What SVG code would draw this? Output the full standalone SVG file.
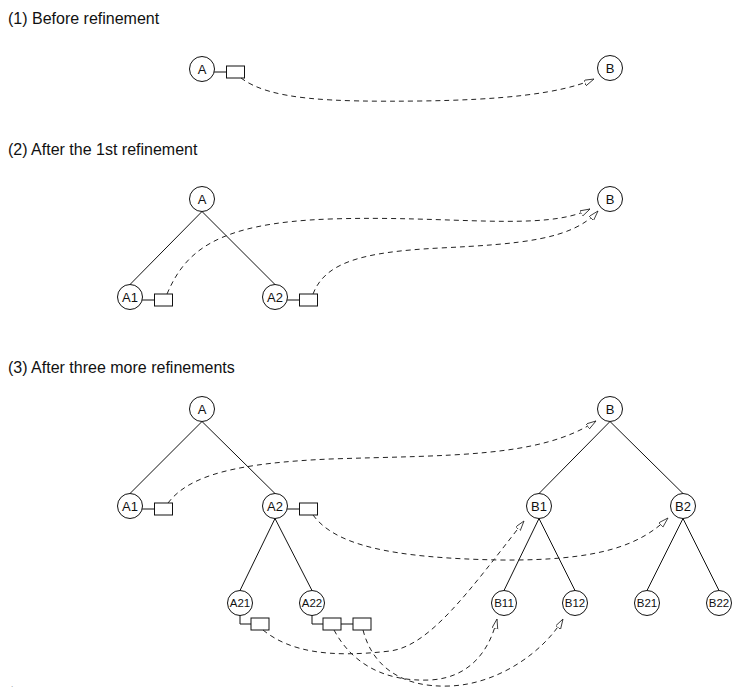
<svg xmlns="http://www.w3.org/2000/svg" width="732" height="688" viewBox="0 0 732 688">
<style>
.title{font-family:"Liberation Sans",Arial,sans-serif;font-size:16px;fill:#111}
.lbl{font-family:"Liberation Sans",Arial,sans-serif;font-size:13px;fill:#111;text-anchor:middle;dominant-baseline:central}
.lbl3{font-family:"Liberation Sans",Arial,sans-serif;font-size:11.5px;fill:#111;text-anchor:middle;dominant-baseline:central}
circle{fill:#fff;stroke:#111;stroke-width:1}
rect.box{fill:#fff;stroke:#111;stroke-width:1}
.tree{stroke:#111;stroke-width:1;fill:none}
.stub{stroke:#111;stroke-width:1;fill:none}
.link{stroke:#222;stroke-width:1;fill:none;stroke-dasharray:5 4;marker-end:url(#arr)}
</style>
<defs>
<marker id="arr" markerUnits="userSpaceOnUse" markerWidth="14" markerHeight="8" refX="10" refY="3" orient="auto">
<path d="M0,0 L10,3 L0,6 Z" fill="#fff" stroke="#222" stroke-width="0.8" stroke-dasharray="none"/>
</marker>
</defs>
<rect width="732" height="688" fill="#fff"/>
<text class="title" x="8" y="24">(1) Before refinement</text>
<text class="title" x="8" y="155">(2) After the 1st refinement</text>
<text class="title" x="8" y="373">(3) After three more refinements</text>
<g id="tree-edges">
<path class="tree" d="M202 211.5 L130 284.5 M202 211.5 L275 284.5"/>
<path class="tree" d="M202 421.5 L130 493.5 M202 421.5 L275 493.5 M275 518.5 L240 590.5 M275 518.5 L312 590.5"/>
<path class="tree" d="M610 421.5 L539 493.5 M610 421.5 L683 493.5 M539 518.5 L504 590.5 M539 518.5 L575 590.5 M683 518.5 L647 590.5 M683 518.5 L719 590.5"/>
</g>
<g id="s1-A"><circle cx="202" cy="69" r="12.5"/><text class="lbl" x="202" y="69">A</text><path class="stub" d="M214.1 72 H226.5"/><rect class="box" x="226.5" y="66" width="18" height="12"/></g>
<g id="s1-B"><circle cx="610" cy="68" r="12.5"/><text class="lbl" x="610" y="68">B</text></g>
<g id="s2-A"><circle cx="202" cy="199" r="12.5"/><text class="lbl" x="202" y="199">A</text></g>
<g id="s2-A1"><circle cx="130" cy="297" r="12.5"/><text class="lbl" x="130" y="297">A1</text><path class="stub" d="M142.1 300 H154.5"/><rect class="box" x="154.5" y="294" width="18" height="12"/></g>
<g id="s2-A2"><circle cx="275" cy="297" r="12.5"/><text class="lbl" x="275" y="297">A2</text><path class="stub" d="M287.1 300 H299.5"/><rect class="box" x="299.5" y="294" width="18" height="12"/></g>
<g id="s2-B"><circle cx="610" cy="199" r="12.5"/><text class="lbl" x="610" y="199">B</text></g>
<g id="s3-A"><circle cx="202" cy="409" r="12.5"/><text class="lbl" x="202" y="409">A</text></g>
<g id="s3-A1"><circle cx="130" cy="506" r="12.5"/><text class="lbl" x="130" y="506">A1</text><path class="stub" d="M142.1 509 H154.5"/><rect class="box" x="154.5" y="503" width="18" height="12"/></g>
<g id="s3-A2"><circle cx="275" cy="506" r="12.5"/><text class="lbl" x="275" y="506">A2</text><path class="stub" d="M287.1 509 H299.5"/><rect class="box" x="299.5" y="503" width="18" height="12"/></g>
<g id="s3-A21"><circle cx="240" cy="603" r="12.5"/><text class="lbl3" x="240" y="603">A21</text><path class="stub" d="M240 615.5 V624 H251"/><rect class="box" x="251" y="618" width="18" height="12"/></g>
<g id="s3-A22"><circle cx="312" cy="603" r="12.5"/><text class="lbl3" x="312" y="603">A22</text><path class="stub" d="M312 615.5 V624 H323 M341 624 H353"/><rect class="box" x="323" y="618" width="18" height="12"/><rect class="box" x="353" y="618" width="18" height="12"/></g>
<g id="s3-B"><circle cx="610" cy="409" r="12.5"/><text class="lbl" x="610" y="409">B</text></g>
<g id="s3-B1"><circle cx="539" cy="506" r="12.5"/><text class="lbl" x="539" y="506">B1</text></g>
<g id="s3-B2"><circle cx="683" cy="506" r="12.5"/><text class="lbl" x="683" y="506">B2</text></g>
<g id="s3-B11"><circle cx="504" cy="603" r="12.5"/><text class="lbl3" x="504" y="603">B11</text></g>
<g id="s3-B12"><circle cx="575" cy="603" r="12.5"/><text class="lbl3" x="575" y="603">B12</text></g>
<g id="s3-B21"><circle cx="647" cy="603" r="12.5"/><text class="lbl3" x="647" y="603">B21</text></g>
<g id="s3-B22"><circle cx="719" cy="603" r="12.5"/><text class="lbl3" x="719" y="603">B22</text></g>
<g id="connectors">
<path class="link" d="M241 78 C270 100 330 102 420 101 C500 100 560 94 594 79"/>
<path class="link" d="M167 294 C185 252 215 223 330 219 C450 215 545 232 590 209"/>
<path class="link" d="M313 294 C325 263 360 252 440 248 C520 244 572 240 598 211"/>
<path class="link" d="M168 503 C190 474 240 463 330 459 C450 455 540 458 596 421"/>
<path class="link" d="M313 515 C335 545 390 558 500 560 C600 561 640 545 668 518"/>
<path class="link" d="M263 630 C290 652 330 658 390 651 C430 646 470 590 524 521"/>
<path class="link" d="M334 630 C350 660 380 682 430 680 C470 678 490 650 497 619"/>
<path class="link" d="M363 630 C372 665 400 688 450 686 C500 684 545 650 563 619"/>
</g>
<text x="11" y="687" style="font-family:'Liberation Sans',Arial,sans-serif;font-size:8px;fill:#888">.</text>
</svg>
